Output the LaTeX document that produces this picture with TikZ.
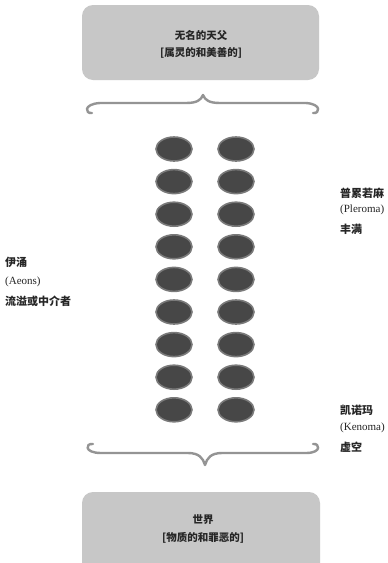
\documentclass[tikz,border=0pt]{standalone}
\usepackage{fontspec}
\setmainfont{Liberation Serif}
\newfontfamily\cjk{Noto Sans CJK SC}
\usetikzlibrary{positioning}

\tikzset{
  panel/.style={fill=black!22, rounded corners=11pt},
  bead/.style={fill=black!72, draw=black!52, line width=1.6pt},
  brace/.style={draw=black!42, line width=2.4pt, line cap=round, line join=round},
  title/.style={inner sep=0pt, text=black!85, font=\cjk\bfseries\fontsize{10.5}{12}\selectfont},
  side/.style={anchor=west, inner sep=0pt, text=black!85, font=\cjk\bfseries\fontsize{11}{13}\selectfont},
  latin/.style={anchor=west, inner sep=0pt, text=black!85, font=\fontsize{11}{13}\selectfont},
}

\begin{document}
\begin{tikzpicture}[x=1pt, y=-1pt]
				\useasboundingbox (0,0) rectangle (388,563);
				\clip (0,0) rectangle (388,563);
				\fill[white] (0,0) rectangle (388,563);
				
				% upper realm
				\fill[panel] (82,5) rectangle (319,80);
				\node[title] (father) at (201,35) {无名的天父};
				\node[title] (fathernote) at (201,53) {[属灵的和美善的]};
				
				\draw[brace] (92,113) .. controls (85,114) and (83,104) .. (100,103)
					-- (186,103) .. controls (197,103) and (201,100) .. (203,95)
					.. controls (205,100) and (209,103) .. (220,103)
					-- (306,103) .. controls (322,104) and (320,114) .. (313,113);
				
				% the aeons, two columns
				\foreach \i in {0,...,8} {
					\fill[bead] (174,149+32.6*\i) ellipse (18pt and 12pt);
					\fill[bead] (236,149+32.6*\i) ellipse (18pt and 12pt);
				}
				
				\draw[brace] (93,444) .. controls (85,443) and (84,453) .. (101,453)
					-- (188,453) .. controls (199,453) and (203,458) .. (205,465)
					.. controls (207,458) and (211,453) .. (222,453)
					-- (306,453) .. controls (322,453) and (320,443) .. (313,444);
				
				% lower realm
				\fill[panel] (82,492) rectangle (320,590);
				\node[title] (world) at (203,520) {世界};
				\node[title] (worldnote) at (203,538) {[物质的和罪恶的]};
				
				% labels
				\node[side] (aeon) at (5,262) {伊涌};
				\node[latin] (aeonlat) at (5,282) {(Aeons)};
				\node[side] (aeonnote) at (5,301) {流溢或中介者};
				
				\node[side] (pler) at (340,193) {普累若麻};
				\node[latin] (plerlat) at (340,210) {(Pleroma)};
				\node[side] (plernote) at (340,229) {丰满};
				
				\node[side] (ken) at (340,410) {凯诺玛};
				\node[latin] (kenlat) at (340,428) {(Kenoma)};
				\node[side] (kennote) at (340,447) {虚空};
			\end{tikzpicture}
\end{document}
